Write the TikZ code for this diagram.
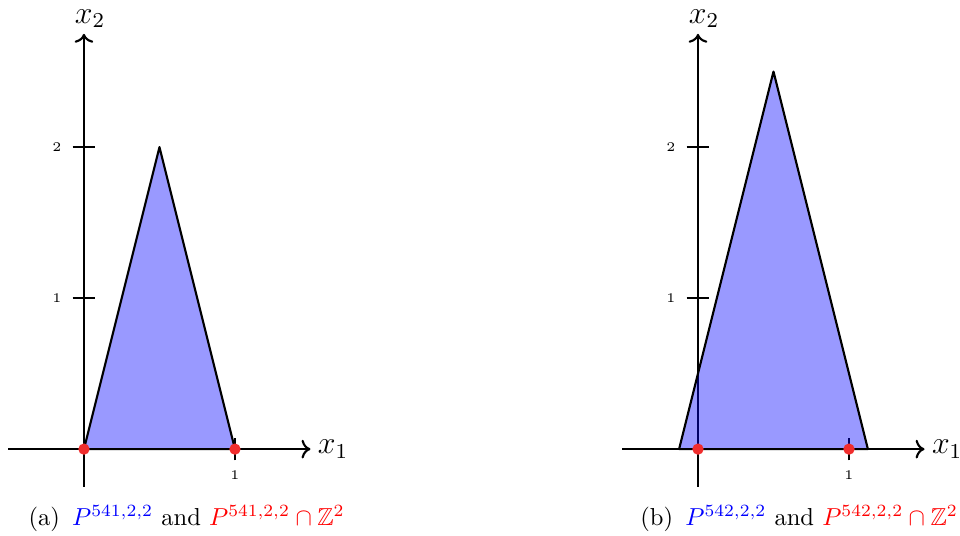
\documentclass[tikz,border=0pt]{standalone}
\usepackage{amsmath,amssymb}
\usetikzlibrary{arrows.meta,calc}
\definecolor{PolyBlue}{RGB}{0,0,255}
\definecolor{DotRed}{RGB}{240,45,45}
\tikzset{
  axisline/.style={->,thick},
  tickmark/.style={thick},
  polyfill/.style={draw=black,thick,fill=PolyBlue,fill opacity=0.4,line join=round},
  latpt/.style={circle,fill=DotRed,inner sep=0pt,minimum size=1.5mm},
  ticklabel/.style={font=\tiny,inner sep=1pt},
  axislabel/.style={font=\large,inner sep=0pt},
  subcap/.style={font=\normalsize,inner sep=0pt,scale=0.925}
}

\begin{document}
\begin{tikzpicture}[x=2cm,y=2cm]
\useasboundingbox (-0.556,-0.570) rectangle (5.801,2.974);

% (a)
\coordinate (xa0) at (-0.5,0);
\coordinate (xa1) at (1.5,0);
\coordinate (ya0) at (0,-0.25);
\coordinate (ya1) at (0,2.75);
\draw[axisline](xa0)--(xa1);\draw[axisline](ya0)--(ya1);
\node[axislabel] (xla) at (1.65,0) {$x_1$};
\node[axislabel] (yla) at (0.04,2.85) {$x_2$};
\coordinate (ta1) at (1,0);
\coordinate (ta2) at (0,1);
\coordinate (ta3) at (0,2);
\draw[tickmark]($(ta1)+(0,-0.075)$)--($(ta1)+(0,0.075)$);
\draw[tickmark]($(ta2)+(-0.075,0)$)--($(ta2)+(0.075,0)$);
\draw[tickmark]($(ta3)+(-0.075,0)$)--($(ta3)+(0.075,0)$);
\node[ticklabel] (lta1) at (1,-0.17) {1};
\node[ticklabel] (lta2) at (-0.18,1) {1};
\node[ticklabel] (lta3) at (-0.18,2) {2};
\coordinate (pa1) at (0,0);
\coordinate (pa2) at (0.5,2);
\coordinate (pa3) at (1,0);
\draw[polyfill](pa1)--(pa2)--(pa3)--cycle;
\node[latpt] (za1) at (0,0) {};
\node[latpt] (za2) at (1,0) {};
\node[subcap] (capa) at (0.68,-0.46) {(a)\, $\color{blue}P^{541,2,2}$ and $\color{red}P^{541,2,2}\cap\mathbb{Z}^2$};

% (b)
\begin{scope}[xshift=4.066*2cm]
\coordinate (xb0) at (-0.5,0);
\coordinate (xb1) at (1.5,0);
\coordinate (yb0) at (0,-0.25);
\coordinate (yb1) at (0,2.75);
\draw[axisline](xb0)--(xb1);\draw[axisline](yb0)--(yb1);
\node[axislabel] (xlb) at (1.65,0) {$x_1$};
\node[axislabel] (ylb) at (0.04,2.85) {$x_2$};
\coordinate (tb1) at (1,0);
\coordinate (tb2) at (0,1);
\coordinate (tb3) at (0,2);
\draw[tickmark]($(tb1)+(0,-0.075)$)--($(tb1)+(0,0.075)$);
\draw[tickmark]($(tb2)+(-0.075,0)$)--($(tb2)+(0.075,0)$);
\draw[tickmark]($(tb3)+(-0.075,0)$)--($(tb3)+(0.075,0)$);
\node[ticklabel] (ltb1) at (1,-0.17) {1};
\node[ticklabel] (ltb2) at (-0.18,1) {1};
\node[ticklabel] (ltb3) at (-0.18,2) {2};
\coordinate (pb1) at (-0.125,0);
\coordinate (pb2) at (0.5,2.5);
\coordinate (pb3) at (1.125,0);
\draw[polyfill](pb1)--(pb2)--(pb3)--cycle;
\node[latpt] (zb1) at (0,0) {};
\node[latpt] (zb2) at (1,0) {};
\node[subcap] (capb) at (0.67,-0.46) {(b)\, $\color{blue}P^{542,2,2}$ and $\color{red}P^{542,2,2}\cap\mathbb{Z}^2$};
\end{scope}
\end{tikzpicture}
\end{document}
